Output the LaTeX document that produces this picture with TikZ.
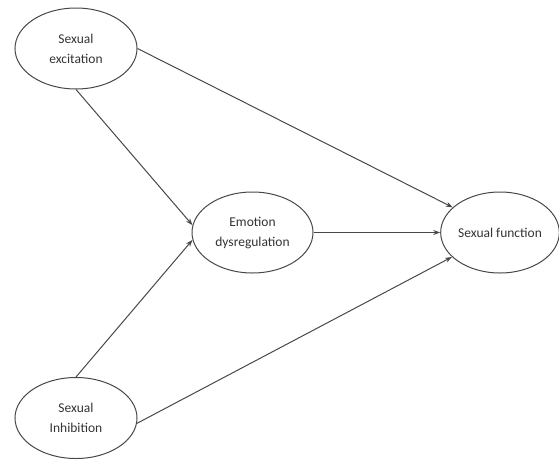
\documentclass[tikz,border=0pt]{standalone}
\usepackage{fontspec}
\setmainfont{Carlito}
\usetikzlibrary{shapes.geometric,arrows.meta}
\definecolor{linegray}{HTML}{484848}
\definecolor{textgray}{HTML}{333333}
\tikzset{
  latent/.style={ellipse, draw=linegray, line width=1pt, inner sep=0pt,
    minimum width=122pt, minimum height=81pt, align=center, text=textgray,
    font=\fontsize{13.5}{20}\selectfont},
  path/.style={draw=linegray, line width=1pt, -{Stealth[length=7pt,width=5pt]}}
}
\begin{document}
\begin{tikzpicture}[x=1pt,y=-1pt]
\useasboundingbox (0,0) rectangle (559,461);
\node[latent] (exc) at (76,48.5) {Sexual\\excitation};
\node[latent, minimum width=121pt] (emo) at (252.5,232.5) {Emotion\\dysregulation};
\node[latent, minimum width=116pt] (fun) at (500,232.5) {Sexual function};
\node[latent] (inh) at (76,418) {Sexual\\Inhibition};
\draw[path] (exc.east) -- (fun.152);
\draw[path] (exc.south) -- (emo.173);
\draw[path] (inh.north) -- (emo.187);
\draw[path] (inh.-5) -- (fun.207);
\draw[path] (emo.east) -- (fun.west);
\end{tikzpicture}
\end{document}
